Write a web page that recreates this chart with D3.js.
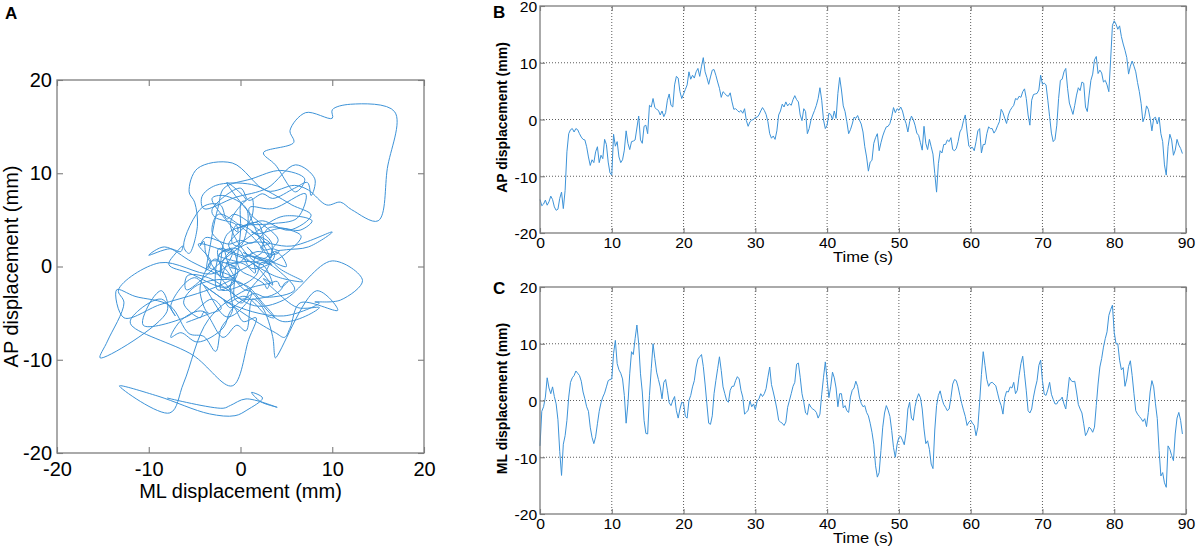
<!DOCTYPE html>
<html>
<head>
<meta charset="utf-8">
<script src="https://cdn.jsdelivr.net/npm/d3@7"></script>
<style>
  body { margin: 0; background: #fff; }
  svg { display: block; }
  text { font-family: "Liberation Sans", Arial, Helvetica, sans-serif; fill: #000; }
</style>
</head>
<body>
<svg id="fig" width="1196" height="547"></svg>
<script>
// ---------------- DATA (0.25 s sampling) ----------------
// Anterior-posterior displacement (mm), panel B
const AP_mm = [
  -14.1, -15.2, -14.9, -14.2,  -15.1, -14.5, -13.5, -14.1,  -15.4, -16, -15.8, -13.9,
  -12.8, -15.7, -12.5, -5.7,   -2.5, -1.8, -1.6, -2.2,      -1.6, -1.8, -2.5, -3.1,
  -3.5, -3.6, -4.8, -6.6,      -8.1, -7.1, -7.6, -5.7,      -4.8, -7.6, -6.3, -6.9,
  -3.5, -4.4, -7.5, -9.4,      -9.8, -2.6, -4.7, -3.9,      -6.6, -7.6, -7.1, -5.4,
  -2, -4.2, -5.3, -3.9,        -3.8, -3.6, -1.5, 0.6,       -3.6, -4.2, -1.2, -1,
  -2.5, 2.5, 2.2, 3.7,         2.1, 1.8, 1.6, 0.8,          1.5, 0.5, 1.2, 3.4,
  4.5, 2.5, 2.2, 6.1,          7.6, 7.3, 4.9, 3.7,          4.5, 5.3, 6.1, 8.4,
  7.1, 7.8, 7.3, 8.4,          9, 7.6, 9.4, 10.9,           8.4, 7.4, 6.2, 7.5,
  8.7, 8.8, 7.8, 6.6,          5.5, 3.9, 4.9, 4.6,          4.2, 4.1, 4.7, 3.1,
  1.8, 1.9, 1.6, 1.3,          1.6, 1.1, 1.9, -0.2,         -1.2, -0.4, -0.1, 0,
  0.4, 0.4, 0.8, 1.5,          2.1, 1.6, 0.9, -0.4,         -2.5, -3.3, -2.9, -3.5,
  -2, 0.8, 1.5, 2.7,           2.2, 3.1, 2.4, 2.8,          2.5, 3.5, 4.2, 3.5,
  3.1, 0.8, -0.2, 1.9,         1.4, -2.5, -1.6, -0.1,       0.8, 1.6, 2.5, 3.7,
  5.6, 3.4, -0.1, -1.6,        -1, 1.1, 0.9, 0,             1.5, 0.2, 4.6, 7.4,
  5.2, 2.4, 1.4, -0.4,         -2.5, -1.8, -0.8, 0.4,       0.2, 0.7, -0.1, -0.8,
  -2.2, -4.8, -6.6, -9.1,      -7.5, -7.2, -4.2, -3.2,      -2.5, -5.5, -4.1, -2.9,
  -2, -1.3, -1.2, -0.7,        0.5, 2.1, 1.2, 1.9,          1.6, 2.2, 1.5, 0.2,
  -0.7, -2.2, -0.4, 0.6,       0, -1, -2.4, -2.8,           -4.1, -5.4, -1.2, -4.2,
  -5.3, -3.5, -4.8, -6.1,      -9.5, -12.8, -7.8, -5.5,     -5.9, -4.4, -4.4, -3.6,
  -3.9, -3.2, -5.3, -5.5,      -5.1, -3.9, -2.2, -1.6,      -0.2, 0.8, -2.2, -4.7,
  -5, -4.9, -5.5, -3.9,        -2, -1.6, -5.9, -4.4,        -4.4, -2.5, -1.3, -1.6,
  -1.6, -2.4, -1.9, -1.1,      -0.4, 1.8, 1.2, 0.2,         -0.7, 0.8, 1.6, 2.1,
  2.5, 3.7, 3.5, 4.1,          3.9, 4.9, 5.4, 3.7,          0.8, -1, 3.4, 4.4,
  4.5, 4.6, 5.2, 7.8,          6.2, 6.4, 6.1, 3.4,          0.5, -2.4, -3.9, -3.5,
  -1, 3.7, 6.9, 7.1,           8.4, 9, 5.5, 2.9,            1.9, 0.9, 2.5, 4.3,
  5.6, 5.1, 6.6, 6.4,          2.2, 1.4, 4.3, 6.9,          8, 10.5, 11.1, 8.1,
  8.7, 8.2, 6.6, 6.9,          6.1, 4.9, 10.5, 16.6,        17.4, 16.8, 15.9, 16.5,
  14.6, 13.3, 12.2, 10.9,      8, 9.4, 10.3, 9.4,           8.4, 6.5, 4.9, 2.8,
  -0.4, 0.5, 2.4, 1.8,         0.2, -2, 0.2, 0.4,           -0.8, 0.4, -2.5, -3.9,
  -8, -9.8, -4.8, -2.6,        -3.6, -6.3, -5.4, -3.5,      -4.5, -5.1, -6
];

// Medio-lateral displacement (mm), panel C
const ML_mm = [
  -8, -1.9, -1.1, 0.6,         4, 2.2, 1.2, 2.4,            0.7, -0.6, -3.4, -9,
  -13.2, -7.7, -6.2, -3.5,     0.6, 3.2, 4, 4.4,            5.2, 4.8, 4.4, 3.4,
  1.5, 0.3, -1.1, -1.9,        -4.7, -6.5, -7.6, -6.4,      -4.1, -1.9, -0.4, 0.6,
  1.3, 2.4, 3.5, 3.7,          3.8, 8.3, 10.6, 6.5,         5.4, 4.8, 3.8, 0.9,
  -4, -0.6, 4.7, 8.6,          8.1, 10.9, 13.3, 10,         4.7, 1.5, -3.5, -5.8,
  -5.9, 0.9, 5.6, 10,          7.4, 5, 3.7, 2.4,            0.3, 3.2, 3.7, 1.8,
  -0.4, -0.9, 0, 0.7,          -1.8, -3.1, -1.5, -0.3,      -0.5, -2.8, -3.1, 0,
  0.9, 2.4, 3.5, 5.9,          7.3, 7.7, 8.1, 6,            2.9, -0.6, -4, -4.2,
  -2.7, 1.2, 3.5, 5.6,         7.7, 5.3, 2.4, 1.2,          0, -0.3, 1.8, 2.5,
  2.5, 3.5, 4.2, 3.8,          1.8, 0.6, -2.4, -2.1,        -1.7, -0.1, -1.1, -0.6,
  -1.6, -0.1, 0.3, 1.2,        0.7, 1.2, 2.1, 4.1,          5.9, 2.8, 1.5, 0.1,
  -1.5, -3.5, -3.8, -4,        -4.4, -3.8, -1.2, 0,         1.2, 2.5, 3.2, 6.4,
  6.6, 4.1, 1.2, -0.3,         -2.2, -2.5, -0.6, -1.2,      -1.5, -1.7, -2.1, -3.1,
  -2.4, 1.1, 4.1, 6.8,         3.7, 0.5, 2.4, 5,            4, 2.2, -1.1, 1.2,
  1.2, -1.3, -0.9, -1.8,       -2.1, 0.6, 1.8, 2.2,         3.4, 2.5, 0.6, -0.5,
  -1.1, -0.9, -2.1, -2.7,      -4, -5.6, -7.7, -11.5,       -13.5, -12.7, -8.8, -4.7,
  -2.2, -0.9, -1.7, -2.8,      -5.3, -8.3, -10, -7.7,       -6.5, -6.3, -7, -7.8,
  -5.6, -1.5, -0.3, -3.1,      -3.5, -1.1, 0.3, 1.2,        0.5, -1.5, -5, -7.6,
  -7.1, -8.6, -11.2, -12,      -5.2, -0.9, 0.9, 1.7,        0.3, -0.7, -1.2, -1.8,
  -1.5, 0.5, 2.9, 3.7,         3.5, 2.4, 0.9, -0.5,         -1.7, -2.8, -4.4, -3.8,
  -3.5, -4, -4.4, -6.2,        -4.7, -0.3, 4.6, 8.6,        6.2, 3.7, 2.5, 3.1,
  3.2, 2.9, 2.6, 1.3,          0, -0.9, -2.4, 0.5,          1.6, 1.5, 2.4, 2.2,
  3.2, 1.2, 1.8, 4.4,          6.5, 7.8, 4.7, 1.7,          -1.8, -2.2, -1.5, 0.6,
  2.2, 3.5, 6.2, 7.1,          3.5, 1.1, 0.9, 1.9,          3.2, 1.1, 0.2, -0.6,
  -0.6, 0, 0.1, 0.6,           -0.6, -1.5, 1.2, 4.1,        3.5, 3.3, 3.4, 1.5,
  -0.7, -1.5, -2.2, -4.1,      -6.2, -5.6, -4.7, -5,        -5.6, -4.7, -0.9, 2.9,
  5.9, 7.4, 9.4, 10.9,         12.1, 15, 16, 16.8,          12, 10, 10, 7.1,
  5.4, 5.8, 2.5, 3.8,          6, 7, 4.4, 1.2,              -1.8, -2.4, -2.8, -3.2,
  -3.7, -3.2, -4.6, -2.1,      1.5, 3.5, 2.4, -0.6,         -3.2, -8.8, -13.3, -12.7,
  -14.5, -15.3, -8, -8.6,      -9.7, -10.6, -5.9, -3.1,     -2.1, -3.5, -5.9
];

const sampleStepSec = 0.25;
const timeSec = AP_mm.map((_, i) => i * sampleStepSec);

const displacementTicks = [-20, -10, 0, 10, 20];
const timeTicks = [0, 10, 20, 30, 40, 50, 60, 70, 80, 90];

const panelLetters = ["A", "B", "C"];
const axisTitles = {
  aX: "ML displacement (mm)",
  aY: "AP displacement (mm)",
  bY: "AP displacement (mm)",
  cY: "ML displacement (mm)",
  time: "Time (s)"
};

// ---------------- DRAWING ----------------
const svg = d3.select("#fig");
const LINE = "#3d93d8";
const BOX = "#7d7d7d";

function drawGrid(g, x, y, xTicks, yTicks) {
  const [x0, x1] = x.range();
  const [y0, y1] = y.range();
  const grid = g.append("g").attr("class", "grid");
  grid.selectAll("line.gx").data(xTicks.slice(1, -1)).join("line")
    .attr("class", "gx")
    .attr("x1", d => x(d)).attr("x2", d => x(d))
    .attr("y1", y0).attr("y2", y1);
  grid.selectAll("line.gy").data(yTicks.slice(1, -1)).join("line")
    .attr("class", "gy")
    .attr("x1", x0).attr("x2", x1)
    .attr("y1", d => y(d)).attr("y2", d => y(d));
  grid.selectAll("line")
    .attr("stroke", "#4a4a4a").attr("stroke-width", 0.9)
    .attr("stroke-dasharray", "1 2");
}

function axesOnTop(g, x, y, xTicks, yTicks, opt) {
  const [x0, x1] = x.range();
  const [y0, y1] = y.range();
  const tl = opt.tickLen;
  const sx = opt.stretch || 1;

  const bottom = g.append("g").attr("transform", `translate(0,${y0})`)
    .call(d3.axisBottom(x).tickValues(xTicks)
      .tickSizeInner(-tl).tickSizeOuter(0).tickPadding(opt.xPad));
  const left = g.append("g").attr("transform", `translate(${x0},0)`)
    .call(d3.axisLeft(y).tickValues(yTicks)
      .tickSizeInner(-tl).tickSizeOuter(0).tickPadding(opt.yPad));
  const top = g.append("g").attr("transform", `translate(0,${y1})`)
    .call(d3.axisTop(x).tickValues(xTicks).tickFormat("")
      .tickSizeInner(-tl).tickSizeOuter(0));
  const right = g.append("g").attr("transform", `translate(${x1},0)`)
    .call(d3.axisRight(y).tickValues(yTicks).tickFormat("")
      .tickSizeInner(-tl).tickSizeOuter(0));

  [bottom, left, top, right].forEach(a => {
    a.select(".domain").remove();
    a.selectAll(".tick line").attr("stroke", BOX).attr("stroke-width", 1.1);
    a.selectAll(".tick text")
      .style("font-size", opt.fontSize + "px")
      .attr("fill", "#000");
  });
  bottom.selectAll(".tick text").text(d => d < 0 ? "-" + Math.abs(d) : d)
    .attr("transform", `scale(${sx},1)`);
  left.selectAll(".tick text").text(d => d < 0 ? "-" + Math.abs(d) : d)
    .attr("dy", opt.yDy || "0.32em")
    .attr("transform", `scale(${sx},1)`);

  g.append("rect")
    .attr("x", x0).attr("y", y1)
    .attr("width", x1 - x0).attr("height", y0 - y1)
    .attr("fill", "none").attr("stroke", BOX).attr("stroke-width", 1.3);
}

// ---------- Panel A : stabilogram (ML vs AP) ----------
{
  const g = svg.append("g");
  const x = d3.scaleLinear().domain([-20, 20]).range([57, 424]);
  const y = d3.scaleLinear().domain([-20, 20]).range([453, 80]);

  const pts = ML_mm.map((v, i) => [v, AP_mm[i]]);
  g.append("path")
    .datum(pts)
    .attr("fill", "none").attr("stroke", LINE).attr("stroke-width", 1)
    .attr("stroke-linejoin", "round")
    .attr("d", d3.line().curve(d3.curveCatmullRom.alpha(0.5))
      .x(d => x(d[0])).y(d => y(d[1])));

  axesOnTop(g, x, y, displacementTicks, displacementTicks,
    { tickLen: 6, xPad: 9, yPad: 5, fontSize: 20 });

  g.append("text").attr("x", 240.5).attr("y", 498)
    .attr("text-anchor", "middle").style("font-size", "20px")
    .text(axisTitles.aX);
  g.append("text")
    .attr("transform", "translate(18,266.5) rotate(-90)")
    .attr("text-anchor", "middle").style("font-size", "20px")
    .text(axisTitles.aY);
  g.append("text").attr("x", 5).attr("y", 19)
    .style("font-size", "17px").style("font-weight", "bold")
    .text(panelLetters[0]);
}

// ---------- Panels B & C : time series ----------
function timePanel(values, yTop, yBottom, yTitle, letter, letterY) {
  const g = svg.append("g");
  const x = d3.scaleLinear().domain([0, 90]).range([540, 1186]);
  const y = d3.scaleLinear().domain([-20, 20]).range([yBottom, yTop]);
  drawGrid(g, x, y, timeTicks, displacementTicks);

  g.append("path")
    .datum(values.map((v, i) => [timeSec[i], v]))
    .attr("fill", "none").attr("stroke", LINE).attr("stroke-width", 1)
    .attr("stroke-linejoin", "round")
    .attr("d", d3.line().x(d => x(d[0])).y(d => y(d[1])));

  axesOnTop(g, x, y, timeTicks, displacementTicks,
    { tickLen: 5, xPad: 5, yPad: 2.5, fontSize: 14, stretch: 1.12, yDy: "0.42em" });

  g.append("text")
    .attr("transform", `translate(863,${yBottom + 28.5}) scale(1.18,1)`)
    .attr("text-anchor", "middle").style("font-size", "14px")
    .text(axisTitles.time);
  g.append("text")
    .attr("transform", `translate(507,${(yTop + yBottom) / 2 - 2}) rotate(-90)`)
    .attr("text-anchor", "middle").style("font-size", "14px").style("font-weight", "bold")
    .text(yTitle);
  g.append("text").attr("x", 493).attr("y", letterY)
    .style("font-size", "17px").style("font-weight", "bold")
    .text(letter);
}

timePanel(AP_mm, 6, 233, axisTitles.bY, panelLetters[1], 18);
timePanel(ML_mm, 287, 514, axisTitles.cY, panelLetters[2], 294);
</script>
</body>
</html>
